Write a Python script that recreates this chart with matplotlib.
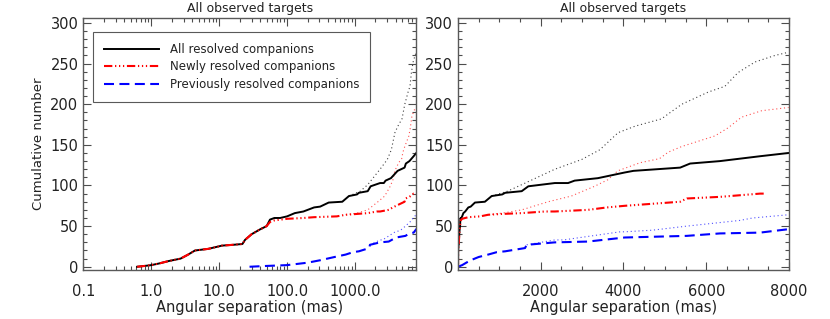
import matplotlib
matplotlib.use("Agg")
import matplotlib.pyplot as plt
from matplotlib.ticker import FixedLocator, MultipleLocator, LogLocator, NullFormatter, FixedFormatter

# cumulative number of companions vs angular separation (mas)
all_sep = [0.62, 0.8, 1.0, 1.3, 1.8, 2.7, 3.5, 4.4, 6.9, 11, 16, 22, 24, 30, 40, 50, 56, 65, 79, 100,
           130, 174, 250, 307, 410, 650, 814, 1070, 1140, 1540, 1700, 2340, 2660, 2820, 3380, 4030,
           4240, 5370, 5610, 6330, 7300, 7990]
all_cum = [0, 1, 2, 4, 7, 10, 15, 20, 22, 26, 27, 28, 33, 40, 46, 50, 58, 60, 60, 62,
           66, 68, 73, 74, 79, 80, 87, 89, 91, 93, 99, 103, 103, 106, 109, 116,
           118, 122, 127, 130, 136, 140]

all_dot_sep = [814, 1200, 1540, 2340, 2990, 3430, 3870, 4280, 4920, 5080, 5410, 6050, 6450, 6770,
               7180, 7660, 7990]
all_dot_cum = [87, 93, 101, 120, 132, 144, 165, 173, 182, 188, 200, 215, 222, 239, 252, 260, 264]

new_sep = [0.62, 0.8, 1.0, 1.3, 1.8, 2.7, 3.5, 4.4, 6.9, 11, 16, 22, 24, 30, 40, 50, 56, 65, 100,
           174, 250, 540, 730, 1070, 1540, 2100, 2340, 3140, 3600, 4030, 5370, 5530, 6330, 7300, 7400]
new_cum = [0, 1, 2, 4, 7, 10, 15, 20, 22, 26, 27, 28, 33, 40, 46, 50, 55, 57, 59,
           60, 61, 62, 64, 65, 66, 68, 68, 70, 73, 75, 80, 84, 86, 90, 90]

new_dot_sep = [730, 1070, 1540, 2180, 2740, 3300, 3620, 3860, 4400, 4870, 5080, 5410, 6210, 6530,
               6850, 7340, 7990]
new_dot_cum = [64, 66, 70, 80, 87, 99, 107, 118, 128, 133, 141, 148, 161, 171, 184, 192, 196]

prev_sep = [28, 50, 100, 200, 307, 500, 730, 940, 1140, 1620, 1660, 2340, 3140, 4030, 5530, 6330,
            7300, 7950, 7990]
prev_cum = [0, 1, 2, 5, 8, 12, 15, 18, 19, 23, 27, 30, 31, 36, 38, 41, 42, 46, 47]

prev_dot_sep = [1660, 2340, 2550, 3920, 4030, 4700, 5530, 6810, 7120, 7990]
prev_dot_cum = [27, 33, 33, 43, 43, 45, 50, 57, 60, 64]

title = "All observed targets"
xlabel = "Angular separation (mas)"
ylabel = "Cumulative number"
labels = ["All resolved companions", "Newly resolved companions", "Previously resolved companions"]

plt.rcParams['font.family'] = ['DejaVu Sans']

fig = plt.figure(figsize=(8.3, 3.19), dpi=100)
ax1 = fig.add_axes([0.1004, 0.1536, 0.4012, 0.7910])
ax2 = fig.add_axes([0.5518, 0.1536, 0.3988, 0.7910])

DOT = (0, (1, 2.5))
DASHDOT3 = (0, (4, 1.3, 0.6, 1.3, 0.6, 1.3, 0.6, 1.3))
DASH = (0, (4.8, 2.6))

for ax in (ax1, ax2):
    ax.plot(all_dot_sep, all_dot_cum, color='0.25', lw=0.8, ls=DOT)
    ax.plot(new_dot_sep, new_dot_cum, color='#ff5050', lw=0.8, ls=DOT)
    ax.plot(prev_dot_sep, prev_dot_cum, color='#5050ff', lw=0.8, ls=DOT)
    ax.plot(all_sep, all_cum, color='black', lw=1.4, ls='-', label=labels[0])
    ax.plot(new_sep, new_cum, color='red', lw=1.5, ls=DASHDOT3, label=labels[1])
    ax.plot(prev_sep, prev_cum, color='blue', lw=1.5, ls=DASH, label=labels[2])

    ax.set_ylim(-4, 306.5)
    ax.yaxis.set_major_locator(MultipleLocator(50))
    ax.yaxis.set_minor_locator(MultipleLocator(10))
    ax.tick_params(which='both', direction='in', top=True, right=True, colors='0.3',
                   labelcolor='#222222', labelsize=10.5)
    ax.tick_params(which='major', length=6, width=0.8)
    ax.tick_params(which='minor', length=3, width=0.8)
    ax.tick_params(axis='x', pad=10)
    for s in ax.spines.values():
        s.set_color('0.35')
        s.set_linewidth(1.0)
    ax.set_title(title, fontsize=9, pad=4, color='#222222')
    ax.set_xlabel(xlabel, fontsize=10.5, labelpad=1, color='#222222')

ax1.set_xscale('log')
ax1.set_xlim(0.1, 8000)
ax1.xaxis.set_major_locator(FixedLocator([0.1, 1, 10, 100, 1000]))
ax1.xaxis.set_major_formatter(FixedFormatter(["0.1", "1.0", "10.0", "100.0", "1000.0"]))
ax1.xaxis.set_minor_locator(LogLocator(base=10, subs=range(2, 10), numticks=20))
ax1.xaxis.set_minor_formatter(NullFormatter())
ax1.set_ylabel(ylabel, fontsize=9.5, color='#222222')

ax2.set_xlim(0, 8000)
ax2.xaxis.set_major_locator(FixedLocator([0, 2000, 4000, 6000, 8000]))
ax2.xaxis.set_major_formatter(FixedFormatter(["", "2000", "4000", "6000", "8000"]))
ax2.xaxis.set_minor_locator(MultipleLocator(500))

leg = ax1.legend(loc='upper left', bbox_to_anchor=(0.029, 0.943), borderaxespad=0,
                 fontsize=8.5, handlelength=4.7, handletextpad=0.9, labelspacing=0.4,
                 borderpad=0.9, fancybox=False, framealpha=1)
leg.get_frame().set_edgecolor('0.35')
leg.get_frame().set_linewidth(0.8)
for t in leg.get_texts():
    t.set_color('#222222')

fig.savefig("out.png", dpi=100)
